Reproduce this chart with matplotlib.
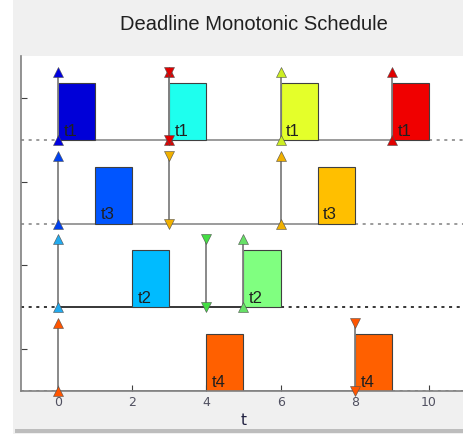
import matplotlib.pyplot as plt
from matplotlib.patches import Rectangle

# tasks, top row to bottom row
tasks = ['t1', 't3', 't2', 't4']
rows = [3, 2, 1, 0]

# executed segments: (start, end, colour)
segments = {
    't1': [(0, 1, '#0000D8'), (3, 4, '#1EFFEE'), (6, 7, '#E4FF2A'), (9, 10, '#F00000')],
    't3': [(1, 2, '#0055FF'), (7, 8, '#FFBF00')],
    't2': [(2, 3, '#00BBFF'), (5, 6, '#80FF80')],
    't4': [(4, 5, '#FF6000'), (8, 9, '#FF6000')],
}

# release times (up arrows) and deadlines (down arrows)
releases = {
    't1': [(0, '#0000E0'), (3, '#E00000'), (6, '#CCEE22'), (9, '#E00000')],
    't3': [(0, '#0040EE'), (6, '#F0B000')],
    't2': [(0, '#22AAEE'), (5, '#66E066')],
    't4': [(0, '#FF5500')],
}
deadlines = {
    't1': [(3, '#E00000')],
    't3': [(3, '#F0B000')],
    't2': [(4, '#44DD44')],
    't4': [(8, '#FF5500')],
}

# end of solid base line, and its colour
line_end = {'t1': 10, 't3': 8, 't2': 6, 't4': 9}
line_col = {'t1': '#808080', 't3': '#808080', 't2': 'black', 't4': '#808080'}

bar_h = 0.68
arrow_h = 0.81

fig = plt.figure(figsize=(4.64, 4.34), dpi=100, facecolor='#F0F0F0')
fig.patches.append(Rectangle((0, 0), 13 / 464, 1, transform=fig.transFigure,
                             facecolor='white', edgecolor='none'))
fig.patches.append(Rectangle((15 / 464, 1 / 434), 1, 4 / 434, transform=fig.transFigure,
                             facecolor='#BDBDBD', edgecolor='none'))

ax = fig.add_axes([21 / 464, 43 / 434, 445 / 464, 335 / 434])
ax.set_xlim(-1, 11)
ax.set_ylim(0, 4)

for task, r in zip(tasks, rows):
    # base line
    ax.plot([-1, 0], [r, r], ls=(0, (2, 3)), color=line_col[task], lw=1.1, zorder=1)
    ax.plot([0, line_end[task]], [r, r], color=line_col[task], lw=1.1, zorder=1)
    ax.plot([line_end[task], 11], [r, r], ls=(0, (2, 3)), color=line_col[task], lw=1.1, zorder=1)

    for s, e, c in segments[task]:
        ax.add_patch(Rectangle((s, r), e - s, bar_h, facecolor=c,
                               edgecolor='#404040', lw=0.8, zorder=2))
        ax.text(s + 0.15, r + 0.05, task, fontsize=12, color='#202020',
                family='Liberation Sans', va='baseline', zorder=5)

    for t, c in releases[task]:
        ax.plot([t, t], [r, r + arrow_h], color='#808080', lw=1.3, zorder=3)
        ax.plot([t, t], [r + arrow_h, r], ls='none', marker='^', ms=7.5,
                mfc=c, mec='#505050', mew=0.4, zorder=4, clip_on=False)
    for t, c in deadlines[task]:
        ax.plot([t, t], [r, r + arrow_h], color='#808080', lw=1.3, zorder=3)
        ax.plot([t, t], [r + arrow_h, r], ls='none', marker='v', ms=7.5,
                mfc=c, mec='#505050', mew=0.4, zorder=4, clip_on=False)

ax.set_xticks([0, 2, 4, 6, 8, 10])
ax.set_yticks([0.5, 1.5, 2.5, 3.5])
ax.set_yticklabels([])
ax.tick_params(direction='in', length=4, color='#404040', labelsize=9,
               labelcolor='#505060')
for side in ['top', 'right']:
    ax.spines[side].set_visible(False)
for side in ['left', 'bottom']:
    ax.spines[side].set_color('#808080')
    ax.spines[side].set_linewidth(1.2)

ax.set_xlabel('t', fontsize=11, color='#202040', labelpad=3)
fig.text(254 / 464, 1 - 25 / 434, 'Deadline Monotonic Schedule', ha='center', va='center',
         fontsize=14.5, family='Liberation Sans', color='#202020')

fig.savefig('out.png', dpi=100, facecolor=fig.get_facecolor())
